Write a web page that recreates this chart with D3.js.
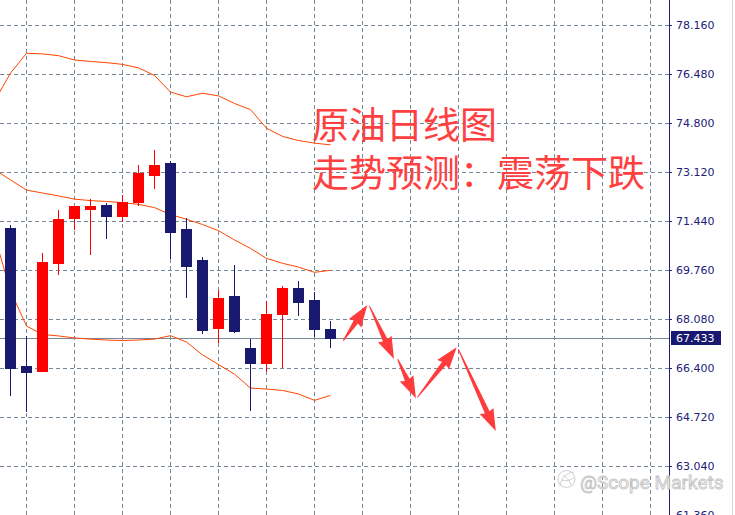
<!DOCTYPE html>
<html><head><meta charset="utf-8">
<script src="https://cdn.jsdelivr.net/npm/d3@7"></script>
<style>html,body{margin:0;padding:0;background:#fff;overflow:hidden}</style>
</head><body>
<svg id="c" width="735" height="515"></svg>
<script>
// ---- data ----
const barIndex = d3.range(0, 21);
const openP  = [71.20,66.47,66.31,70.01,71.55,71.85,71.99,71.62,72.10,73.03,73.43,71.17,70.10,67.77,68.87,67.09,66.57,68.25,69.14,68.73,67.74];
const highP  = [71.30,67.50,70.34,71.82,71.97,72.19,72.07,72.33,73.37,73.87,73.51,71.53,70.20,69.07,69.93,67.39,68.70,69.21,69.38,69.00,68.01];
const lowP   = [65.47,64.93,66.31,69.63,71.18,70.32,70.87,71.45,71.98,72.58,70.16,68.84,67.61,67.29,67.63,64.96,66.30,66.43,68.22,67.50,67.12];
const closeP = [66.40,66.27,70.03,71.51,71.95,71.95,71.62,72.09,73.09,73.36,71.07,69.91,67.70,68.80,67.67,66.57,68.25,69.14,68.66,67.74,67.433];
// Bollinger bands, first value belongs to the bar before index 0 (index -1)
const bandStart = -1;
const bandUpper  = [75.55,76.51,77.19,77.17,77.11,76.96,76.91,76.87,76.81,76.69,76.43,75.86,75.70,75.82,75.73,75.47,75.26,74.62,74.34,74.20,74.11,74.05];
const bandMiddle = [73.20,72.85,72.50,72.40,72.30,72.19,72.14,72.11,72.07,72.01,71.90,71.66,71.50,71.32,71.11,70.79,70.50,70.16,69.99,69.86,69.68,69.75];
const bandLower  = [70.93,69.04,67.84,67.55,67.50,67.43,67.39,67.36,67.34,67.36,67.39,67.51,67.29,66.85,66.52,66.19,65.71,65.68,65.63,65.51,65.29,65.46];
const priceTicks = [78.16,76.48,74.80,73.12,71.44,69.76,68.08,66.40,64.72,63.04,61.36];
const tickLabels = ["78.160","76.480","74.800","73.120","71.440","69.760","68.080","66.400","64.720","63.040","61.360"];
const gridBars = d3.range(1, 41, 3);
const currentPrice = 67.433, currentLabel = "67.433";
// forecast arrows: [fromBar, fromPrice, toBar, toPrice]
const arrows = [
  [20.80,67.34,22.30,68.56],
  [22.43,68.53,23.97,66.71],
  [24.20,66.70,25.34,65.36],
  [25.43,65.40,27.89,67.11],
  [27.99,67.04,30.33,64.24]
];
const titleLines = ["原油日线图","走势预测：震荡下跌"];
const watermark = "@Scope Markets";

// ---- drawing ----
const W = 735, H = 515, axisX = 669;
const svg = d3.select("#c");
const x = d3.scaleLinear().domain([0, 1]).range([10.5, 26.5]);
const y = d3.scaleLinear().domain([61.36, 78.16]).range([515, 25]);
const ry = v => Math.round(y(v));

svg.append("rect").attr("width", W).attr("height", H).attr("fill", "#fff");
svg.append("defs").append("clipPath").attr("id","plot")
  .append("rect").attr("x",0).attr("y",0).attr("width",axisX).attr("height",H);

const grid = svg.append("g").attr("stroke","#778899").attr("stroke-width",1).attr("stroke-dasharray","4,3");
grid.selectAll("line.h").data(priceTicks).join("line").attr("class","h")
  .attr("x1",0).attr("x2",axisX).attr("y1",d=>ry(d)+0.5).attr("y2",d=>ry(d)+0.5);
grid.selectAll("line.v").data(gridBars).join("line").attr("class","v")
  .attr("x1",d=>x(d)).attr("x2",d=>x(d)).attr("y1",0).attr("y2",H);

// current price line
svg.append("line").attr("x1",0).attr("x2",axisX)
  .attr("y1",ry(currentPrice)+0.5).attr("y2",ry(currentPrice)+0.5)
  .attr("stroke","#778899").attr("stroke-width",1);

const plot = svg.append("g").attr("clip-path","url(#plot)");

// bands
const bandLine = d3.line().x((d,i)=>x(i+bandStart)).y(d=>y(d));
[bandUpper, bandMiddle, bandLower].forEach(b=>{
  plot.append("path").attr("d", bandLine(b)).attr("fill","none")
    .attr("stroke","#ff4500").attr("stroke-width",1);
});

// candles
const bear = "#191970", bull = "#ff0000";
const cg = plot.selectAll("g.candle").data(barIndex).join("g").attr("class","candle")
  .attr("fill", i => closeP[i] >= openP[i] ? bull : bear)
  .attr("stroke", i => closeP[i] >= openP[i] ? bull : bear);
cg.append("line").attr("x1",i=>x(i)).attr("x2",i=>x(i))
  .attr("y1",i=>ry(highP[i])).attr("y2",i=>ry(lowP[i])+1).attr("stroke-width",1);
cg.append("rect").attr("stroke","none")
  .attr("x",i=>x(i)-5.5).attr("width",11)
  .attr("y",i=>ry(Math.max(openP[i],closeP[i])))
  .attr("height",i=>Math.max(1, ry(Math.min(openP[i],closeP[i])) - ry(Math.max(openP[i],closeP[i])) + 1));

// arrows
function arrowPath(a){
  const x1 = x(a[0]), y1 = y(a[1]), x2 = x(a[2]), y2 = y(a[3]);
  const dx = x2-x1, dy = y2-y1, L = Math.hypot(dx,dy);
  const ux = dx/L, uy = dy/L, nx = -uy, ny = ux;
  const hl = Math.min(19, L*0.45), hw = 7.5, sw = 2.6, tw = 0.5;
  const bx = x2-ux*hl, by = y2-uy*hl;
  const pts = [
    [x1+nx*tw, y1+ny*tw],[bx+nx*sw - ux*1.5, by+ny*sw - uy*1.5],[bx+nx*hw - ux*3, by+ny*hw - uy*3],[x2,y2],
    [bx-nx*hw - ux*3, by-ny*hw - uy*3],[bx-nx*sw - ux*1.5, by-ny*sw - uy*1.5],[x1-nx*tw, y1-ny*tw]
  ];
  return "M"+pts.map(p=>p[0].toFixed(1)+","+p[1].toFixed(1)).join("L")+"Z";
}
svg.append("g").selectAll("path").data(arrows).join("path")
  .attr("d", arrowPath).attr("fill","#ff3b3b");

// title text
svg.append("g").selectAll("text").data(titleLines).join("text")
  .attr("x",312).attr("y",(d,i)=>139+i*48)
  .attr("font-family","'Noto Sans CJK SC','Noto Sans',sans-serif")
  .attr("font-size",37).attr("fill","#ff4040")
  .text(d=>d);

// axis
const axis = d3.axisRight(y).tickValues(priceTicks).tickFormat((d,i)=>tickLabels[i])
  .tickSize(3).tickSizeOuter(0).tickPadding(4);
const ag = svg.append("g").attr("transform",`translate(${axisX},0)`).call(axis);
ag.select(".domain").attr("stroke","#20207a").attr("d",`M0.5,0V${H}`);
ag.selectAll(".tick line").attr("stroke","#20207a");
ag.selectAll(".tick text").attr("fill","#20207a")
  .attr("font-family","'DejaVu Sans',sans-serif").attr("font-size",11);

// current price label
const cy = ry(currentPrice);
svg.append("rect").attr("x",671).attr("y",cy-7).attr("width",50).attr("height",14).attr("fill","#191970");
svg.append("text").attr("x",676).attr("y",cy).attr("dy","0.36em")
  .attr("font-family","'DejaVu Sans',sans-serif").attr("font-size",11).attr("fill","#fff").text(currentLabel);

// right border line
svg.append("line").attr("x1",732.5).attr("x2",732.5).attr("y1",0).attr("y2",H).attr("stroke","#d4d4d4");

// watermark
const wm = svg.append("g").attr("fill","none").attr("stroke","#cfcfcf").attr("stroke-width",1);
wm.append("circle").attr("cx",566.5).attr("cy",479).attr("r",8.5);
wm.append("path").attr("d","M560,486 C561,478 566,473 574,472 M561,480 C565,481 569,481 574,478 M563,475 C566,477 569,479 571,485");
svg.append("text").attr("x",580).attr("y",489)
  .attr("font-family","Roboto,'Open Sans',sans-serif").attr("font-size",19)
  .attr("fill","#f6f6f6").attr("stroke","#c2c2c2").attr("stroke-width",0.8)
  .text(watermark);
</script>
</body></html>
